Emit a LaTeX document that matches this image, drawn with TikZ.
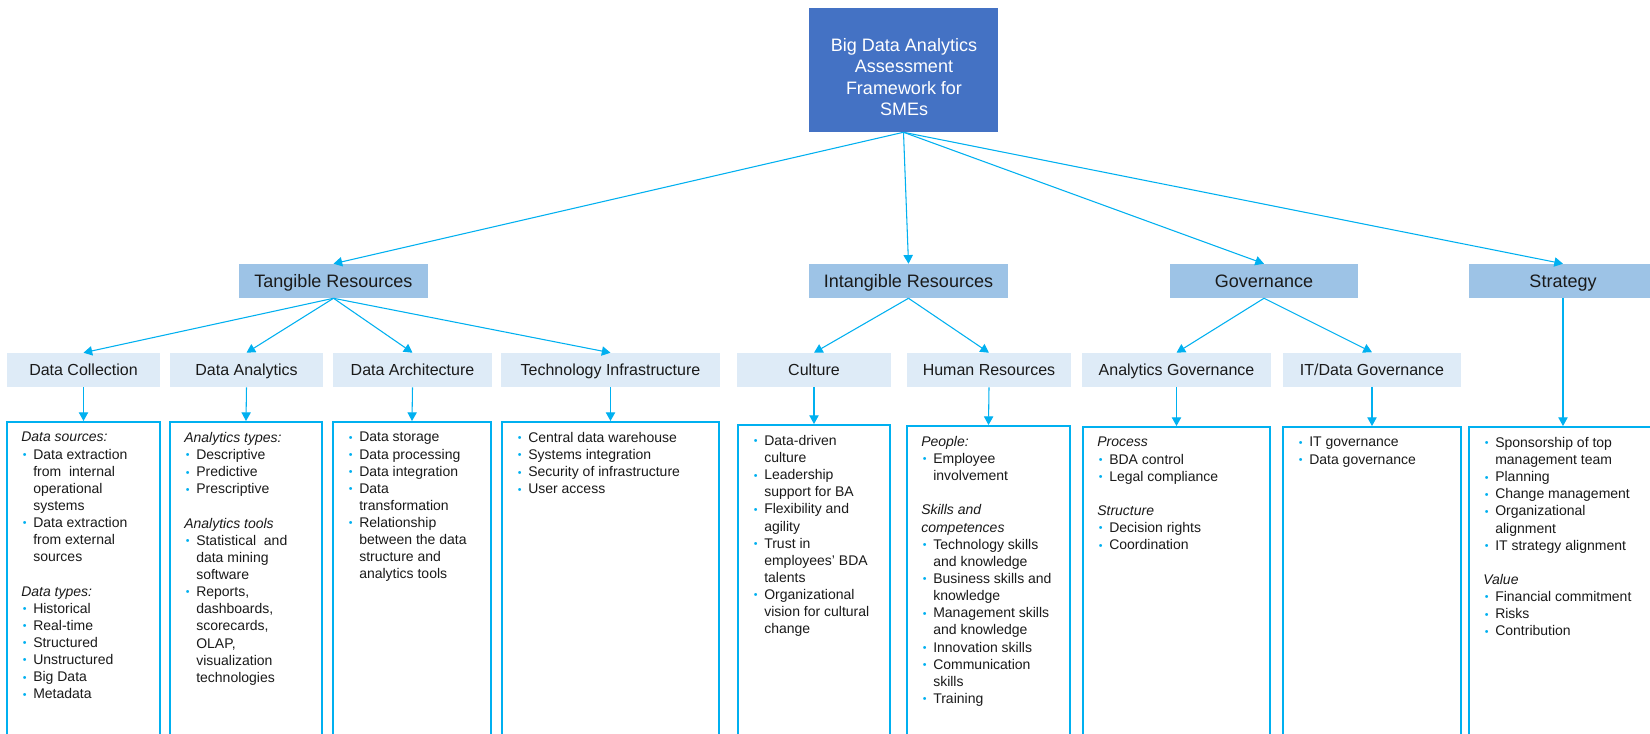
\documentclass[tikz,border=0pt]{standalone}
\usepackage{fontspec}
\setmainfont{Liberation Sans}
\usetikzlibrary{arrows.meta,fit}
\definecolor{rootblue}{HTML}{4472C4}
\definecolor{lvla}{HTML}{9DC3E6}
\definecolor{lvlb}{HTML}{DEEBF7}
\definecolor{cy}{HTML}{00B0F0}
\definecolor{txt}{HTML}{1A1A1A}
\newcommand{\bu}{\hspace*{1.2pt}\makebox[7.8pt][l]{\raisebox{0.5pt}{\textcolor{cy}{\fontsize{8pt}{8pt}\selectfont\textbullet}}}}
\newcommand{\ct}{\hspace*{9pt}}
\newcommand{\hd}[1]{\textit{#1}}
\begin{document}
\begin{tikzpicture}[x=0.75pt,y=-0.75pt,
  sz/.style 2 args={minimum width={#1*0.75pt}, minimum height={#2*0.75pt}},
  rootbox/.style={fill=rootblue, inner sep=0pt},
  lvlone/.style={fill=lvla, inner sep=0pt, text=txt, font=\fontsize{13.5pt}{16pt}\selectfont, text height=9.6pt, text depth=0pt},
  lvltwo/.style={fill=lvlb, inner sep=0pt, text=txt, font=\fontsize{12pt}{14pt}\selectfont, text height=8.6pt, text depth=0pt},
  cbox/.style={draw=cy, line width=1.5pt, inner sep=0pt},
  ctext/.style={anchor=north west, inner sep=0pt, align=left, text=txt, font=\fontsize{10.5pt}{12.85pt}\selectfont},
  conn/.style={draw=cy, line width=0.8pt, -{Triangle[length=6.5pt,width=7pt]}},
]
\fill[white] (0,0) rectangle (1650,733);
\useasboundingbox (0,0) rectangle (1650,733);

% root
\node[rootbox, fit={(809,8)(998,132)}] (root) {};
\node[align=center, text=white, inner sep=0pt, font=\fontsize{13.5pt}{16pt}\selectfont] (roottext) at (904,77) {Big Data Analytics\\Assessment\\Framework for\\SMEs};

% level 1
\node[lvlone, sz={189}{34}] (tang) at (333.5,281) {Tangible Resources};
\node[lvlone, sz={199}{34}] (intang) at (908.5,281) {Intangible Resources};
\node[lvlone, sz={188}{34}] (gov) at (1264,281) {Governance};
\node[lvlone, sz={188}{34}] (strat) at (1563,281) {Strategy};

% level 2
\node[lvltwo, sz={153}{34}] (dc) at (83.5,370) {Data Collection};
\node[lvltwo, sz={153}{34}] (da) at (246.5,370) {Data Analytics};
\node[lvltwo, sz={159}{34}] (darch) at (412.5,370) {Data Architecture};
\node[lvltwo, sz={219}{34}] (ti) at (610.5,370) {Technology Infrastructure};
\node[lvltwo, sz={154}{34}] (cul) at (814,370) {Culture};
\node[lvltwo, sz={164}{34}] (hr) at (989,370) {Human Resources};
\node[lvltwo, sz={189}{34}] (ag) at (1176.5,370) {Analytics Governance};
\node[lvltwo, sz={178}{34}] (itdg) at (1372,369.5) {IT/Data Governance};

% content boxes
\node[cbox, fit={(7,422)(160,770)}] (dcb) {};
\node[cbox, fit={(170,422)(322,770)}] (dab) {};
\node[cbox, fit={(333,422)(491,770)}] (darchb) {};
\node[cbox, fit={(502,422)(719,770)}] (tib) {};
\node[cbox, fit={(738,425)(890,770)}] (culb) {};
\node[cbox, fit={(907,426)(1070,770)}] (hrb) {};
\node[cbox, fit={(1083,427)(1270,770)}] (agb) {};
\node[cbox, fit={(1283,427)(1461,770)}] (itdgb) {};
\node[cbox, fit={(1469,427)(1657,770)}] (stratb) {};

% content texts
\node[ctext] (dct) at (21,432) {\hd{Data sources:}\\
\bu Data extraction\\ \ct from\ \ internal\\ \ct operational\\ \ct systems\\
\bu Data extraction\\ \ct from external\\ \ct sources\\ \mbox{}\\
\hd{Data types:}\\
\bu Historical\\ \bu Real-time\\ \bu Structured\\ \bu Unstructured\\ \bu Big Data\\ \bu Metadata};

\node[ctext] (dat) at (184,432) {\hd{Analytics types:}\\
\bu Descriptive\\ \bu Predictive\\ \bu Prescriptive\\ \mbox{}\\
\hd{Analytics tools}\\
\bu Statistical\ \ and\\ \ct data mining\\ \ct software\\
\bu Reports,\\ \ct dashboards,\\ \ct scorecards,\\ \ct OLAP,\\ \ct visualization\\ \ct technologies};

\node[ctext] (darcht) at (347,432) {\bu Data storage\\ \bu Data processing\\ \bu Data integration\\
\bu Data\\ \ct transformation\\
\bu Relationship\\ \ct between\ the data\\ \ct structure and\\ \ct analytics tools};

\node[ctext] (tit) at (516,432) {\bu Central data warehouse\\ \bu Systems integration\\ \bu Security of infrastructure\\ \bu User access};

\node[ctext] (cult) at (752,435) {\bu Data-driven\\ \ct culture\\
\bu Leadership\\ \ct support for BA\\
\bu Flexibility and\\ \ct agility\\
\bu Trust in\\ \ct employees’ BDA\\ \ct talents\\
\bu Organizational\\ \ct vision for cultural\\ \ct change};

\node[ctext] (hrt) at (921,436) {\hd{People:}\\
\bu Employee\\ \ct involvement\\ \mbox{}\\
\hd{Skills and}\\ \hd{competences}\\
\bu Technology\ skills\\ \ct and knowledge\\
\bu Business skills and\\ \ct knowledge\\
\bu Management\ skills\\ \ct and knowledge\\
\bu Innovation skills\\
\bu Communication\\ \ct skills\\
\bu Training};

\node[ctext] (agt) at (1097,437) {\hd{Process}\\
\bu BDA control\\ \bu Legal compliance\\ \mbox{}\\
\hd{Structure}\\
\bu Decision rights\\ \bu Coordination};

\node[ctext] (itdgt) at (1297,437) {\bu IT governance\\ \bu Data governance};

\node[ctext] (stratt) at (1483,437) {\bu Sponsorship of top\\ \ct management team\\
\bu Planning\\ \bu Change management\\
\bu Organizational\\ \ct alignment\\
\bu IT strategy alignment\\ \mbox{}\\
\hd{Value}\\
\bu Financial commitment\\ \bu Risks\\ \bu Contribution};

% connectors
\draw[conn] (root.south) -- (tang.north);
\draw[conn] (root.south) -- (intang.north);
\draw[conn] (root.south) -- (gov.north);
\draw[conn] (root.south) -- (strat.north);

\draw[conn] (tang.south) -- (dc.north);
\draw[conn] (tang.south) -- (da.north);
\draw[conn] (tang.south) -- (darch.north);
\draw[conn] (tang.south) -- (ti.north);
\draw[conn] (intang.south) -- (cul.north);
\draw[conn] (intang.south) -- (hr.north);
\draw[conn] (gov.south) -- (ag.north);
\draw[conn] (gov.south) -- (itdg.north);

\draw[conn] (dc.south) -- (dcb.north);
\draw[conn] (da.south) -- (dab.north);
\draw[conn] (darch.south) -- (darchb.north);
\draw[conn] (ti.south) -- (tib.north);
\draw[conn] (cul.south) -- (culb.north);
\draw[conn] (hr.south) -- (hrb.north);
\draw[conn] (ag.south) -- (agb.north);
\draw[conn] (itdg.south) -- (itdgb.north);
\draw[conn] (strat.south) -- (stratb.north);
\end{tikzpicture}
\end{document}
